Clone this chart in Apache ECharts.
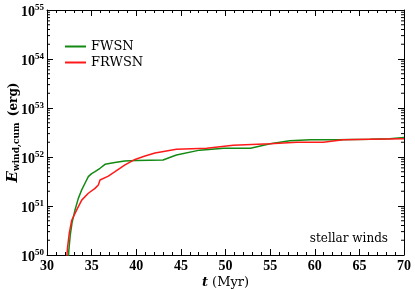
<!DOCTYPE html>
<html>
<head>
<meta charset="utf-8">
<script src="https://cdn.jsdelivr.net/npm/echarts@6/dist/echarts.min.js"></script>
<style>html,body{margin:0;padding:0;background:#fff}#c{width:415px;height:289px}</style>
</head>
<body>
<div id="c"></div>
<script>
// Time (Myr) and log10 of cumulative wind energy (erg)
var tFWSN = [32.35, 32.45, 32.6, 32.8, 33.14, 33.5, 33.89, 34.3, 34.63, 35.0, 35.38, 35.94, 36.5, 37.6, 38.7, 40.0, 43.0, 44.5, 47.1, 49.8, 52.8, 55.0, 57.2, 59.5, 62.5, 66.2, 68.4, 70.0];
var logFWSN = [49.8, 50.1, 50.4, 50.65, 50.92, 51.15, 51.33, 51.48, 51.6, 51.66, 51.7, 51.77, 51.85, 51.89, 51.92, 51.93, 51.94, 52.04, 52.14, 52.18, 52.18, 52.27, 52.33, 52.35, 52.35, 52.36, 52.37, 52.40];
var tFRWSN = [32.15, 32.3, 32.5, 32.77, 33.33, 33.89, 34.63, 35.38, 35.75, 35.94, 36.87, 37.62, 38.74, 39.86, 40.98, 42.1, 44.5, 47.9, 50.87, 55.0, 57.98, 60.96, 63.2, 66.2, 70.0];
var logFRWSN = [49.8, 50.15, 50.45, 50.71, 50.92, 51.12, 51.26, 51.36, 51.43, 51.53, 51.61, 51.70, 51.84, 51.95, 52.02, 52.08, 52.16, 52.18, 52.24, 52.27, 52.30, 52.30, 52.35, 52.36, 52.37];
var seriesNames = ['FWSN', 'FRWSN'];
var xMin = 30, xMax = 70, xStep = 5;
var yMinExp = 50, yMaxExp = 55;
var annotation = 'stellar winds';

function pairs(t, l) { return t.map(function (v, i) { return [v, Math.pow(10, l[i])]; }); }
var minorVals = [];
for (var e = yMinExp; e < yMaxExp; e++) for (var k = 2; k <= 9; k++) minorVals.push([xMin, k * Math.pow(10, e)]);

var FONT = 'DejaVu Serif';
var TFONT = 'Liberation Serif';
var chart = echarts.init(document.getElementById('c'), null, {renderer: 'canvas'});
var yAxisBase = {
  type: 'log', logBase: 10, min: Math.pow(10, yMinExp), max: Math.pow(10, yMaxExp),
  axisLine: {show: true, lineStyle: {color: '#000', width: 1}},
  axisTick: {show: true, inside: true, length: 6, lineStyle: {color: '#000'}},
  splitLine: {show: false}
};
chart.setOption({
  animation: false,
  grid: {left: 47, right: 11, top: 10, bottom: 34, containLabel: false, outerBoundsMode: 'none'},
  legend: {
    data: seriesNames, orient: 'vertical', left: 60, top: 35, itemGap: 3,
    itemWidth: 21, itemHeight: 12, icon: 'path://M0,5 L21,5 L21,7 L0,7 Z',
    textStyle: {fontFamily: FONT, fontSize: 13, color: '#000'}
  },
  title: {
    text: annotation, right: 22, top: 228,
    textStyle: {fontFamily: FONT, fontSize: 12, fontWeight: 'normal', color: '#000'}
  },
  xAxis: [{
    type: 'value', min: xMin, max: xMax, interval: xStep,
    name: '{t|t} (Myr)', nameLocation: 'middle', nameGap: 21, nameMoveOverlap: false,
    nameTextStyle: {fontFamily: FONT, fontSize: 13, color: '#000',
      rich: {t: {fontFamily: FONT, fontSize: 13, fontStyle: 'italic', fontWeight: 'bold', color: '#000'}}},
    axisLine: {show: true, lineStyle: {color: '#000'}},
    axisTick: {show: true, inside: true, length: 6, lineStyle: {color: '#000'}},
    minorTick: {show: true, splitNumber: 5, length: 3, lineStyle: {color: '#000'}},
    axisLabel: {fontFamily: TFONT, fontSize: 14, fontWeight: 'bold', color: '#000', margin: 4},
    splitLine: {show: false}
  }, {
    type: 'value', position: 'top', min: xMin, max: xMax, interval: xStep,
    axisLine: {show: true, lineStyle: {color: '#000'}},
    axisTick: {show: true, inside: true, length: 6, lineStyle: {color: '#000'}},
    minorTick: {show: true, splitNumber: 5, length: 3, lineStyle: {color: '#000'}},
    axisLabel: {show: false}, splitLine: {show: false}
  }],
  yAxis: [Object.assign({}, yAxisBase, {
    name: '{e|E}{s|wind,cum} (erg)', nameLocation: 'middle', nameGap: 26, nameRotate: 90, nameMoveOverlap: false,
    nameTextStyle: {fontFamily: FONT, fontSize: 12, fontWeight: 'bold', color: '#000',
      rich: {
        e: {fontFamily: FONT, fontSize: 15, fontStyle: 'italic', fontWeight: 'bold', color: '#000'},
        s: {fontFamily: FONT, fontSize: 9, fontWeight: 'bold', color: '#000', padding: [6, 2, 0, 0]}
      }},
    axisLabel: {
      margin: 3, color: '#000',
      formatter: function (v) { return '{b|10}{s|' + Math.round(Math.log10(v)) + '}'; },
      rich: {
        b: {fontFamily: TFONT, fontSize: 14, fontWeight: 'bold', color: '#000', padding: [4, 0, 0, 0]},
        s: {fontFamily: TFONT, fontSize: 9, fontWeight: 'bold', color: '#000', padding: [0, 0, 5, 0]}
      }
    }
  }), Object.assign({}, yAxisBase, {position: 'right', axisLabel: {show: false}})],
  series: [{
    name: seriesNames[0], type: 'line', data: pairs(tFWSN, logFWSN), showSymbol: false,
    lineStyle: {color: '#138a13', width: 1.5}, itemStyle: {color: '#138a13'}, clip: true, z: 3
  }, {
    name: seriesNames[1], type: 'line', data: pairs(tFRWSN, logFRWSN), showSymbol: false,
    lineStyle: {color: '#ff1a1a', width: 1.5}, itemStyle: {color: '#ff1a1a'}, clip: true, z: 4
  }, {
    type: 'custom', data: minorVals, silent: true, clip: false,
    renderItem: function (params, api) {
      var l = api.coord([xMin, api.value(1)]);
      var r = api.coord([xMax, api.value(1)]);
      var st = {stroke: '#000', lineWidth: 1};
      return {type: 'group', children: [
        {type: 'line', shape: {x1: l[0], y1: l[1], x2: l[0] + 3, y2: l[1]}, style: st},
        {type: 'line', shape: {x1: r[0], y1: r[1], x2: r[0] - 3, y2: r[1]}, style: st}
      ]};
    }
  }]
});
</script>
</body>
</html>
